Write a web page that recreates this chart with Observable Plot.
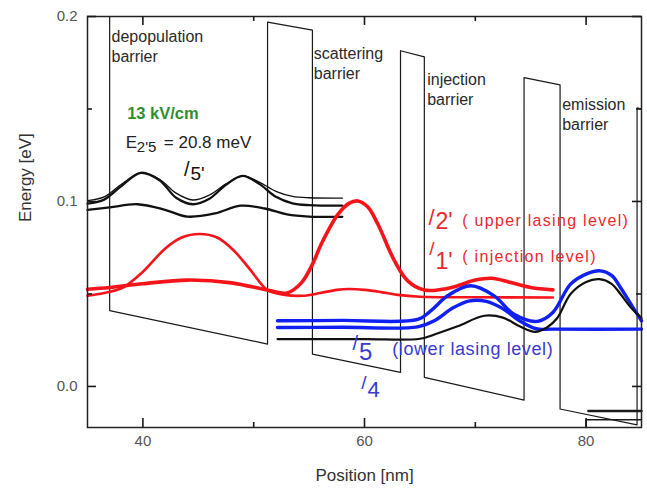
<!DOCTYPE html>
<html><head><meta charset="utf-8">
<script src="https://cdn.jsdelivr.net/npm/d3@7"></script>
<script src="https://cdn.jsdelivr.net/npm/@observablehq/plot@0.6"></script>
<style>
body{margin:0;background:#fff;}
#chart svg{font-family:"Liberation Sans",Arial,sans-serif;}
</style>
</head><body><div id="chart"></div>
<script>
// ---- axes ----
const xDomain = [35, 85];
const yDomain = [-0.0222, 0.2];
const xMajor = [40, 60, 80];
const xMinor = [50, 70];
const yMajor = [0, 0.1, 0.2];
const yMinor = [0.05, 0.15];

// ---- conduction band profile (position nm, energy eV) ----
const bandX = [37, 37, 51.25, 51.25, 55.3, 55.3, 63.25, 63.25, 65.4, 65.4, 74.4, 74.4, 77.65, 77.65, 84.6, 84.6, 85];
const bandE = [0.2, 0.041, 0.0229, 0.197, 0.1926, 0.0175, 0.0076, 0.1815, 0.1782, 0.0049, -0.0074, 0.167, 0.163, -0.0122, -0.0208, 0.1506, 0.1500];
// next-period fragments in the lower right corner
const nextAX = [85, 80, 80];
const nextAE = [-0.018, -0.018, -0.0222];
const nextBX = [80.2, 85];
const nextBE = [-0.0133, -0.0133];

// ---- wavefunctions |psi|^2 offset by energy ----
const k5aX = [35, 36.5, 38, 39.8, 41.5, 43, 44.5, 46, 47.5, 49, 50.5, 52, 53.5, 55, 58];
const k5aE = [0.1005, 0.1025, 0.109, 0.1155, 0.112, 0.1045, 0.1008, 0.1035, 0.1095, 0.1138, 0.1105, 0.1055, 0.1028, 0.102, 0.1018];
const k5bX = [35, 36.5, 38, 39.8, 41.5, 43, 44.5, 46, 47.5, 49, 50.5, 52, 53.5, 55, 58];
const k5bE = [0.0988, 0.101, 0.108, 0.1155, 0.1115, 0.102, 0.0985, 0.1015, 0.109, 0.1138, 0.1095, 0.1025, 0.099, 0.098, 0.0977];
const k5cX = [35, 37, 39.5, 42, 44, 46.5, 48.8, 51, 53, 55, 58];
const k5cE = [0.0955, 0.0968, 0.0985, 0.0955, 0.0918, 0.0935, 0.0977, 0.0962, 0.093, 0.0918, 0.0917];

const up2X = [35, 37, 40, 44, 48, 51.3, 53, 54.3, 55.3, 56.1, 57.6, 58.6, 59.4, 60.3, 61.2, 62.7, 63.9, 65.4, 67, 68.4, 70, 71.5, 73, 75, 77];
const up2E = [0.0525, 0.0535, 0.0555, 0.0575, 0.056, 0.052, 0.0505, 0.056, 0.066, 0.077, 0.093, 0.099, 0.1003, 0.097, 0.0878, 0.068, 0.0571, 0.0521, 0.0525, 0.0544, 0.0575, 0.0585, 0.0565, 0.0535, 0.0522];
const inj1X = [35, 36.5, 38.2, 40, 42, 43.5, 45.1, 46.7, 48.2, 49.7, 51.25, 52.8, 54.4, 56, 57.5, 58.6, 60, 61.5, 63, 65, 70, 77];
const inj1E = [0.049, 0.0505, 0.0535, 0.062, 0.0745, 0.0805, 0.0824, 0.0805, 0.0735, 0.063, 0.052, 0.0495, 0.049, 0.0505, 0.0522, 0.0527, 0.0522, 0.051, 0.0495, 0.0485, 0.0482, 0.0481];

const low5X = [52.15, 58, 64.8, 66, 67.5, 69.6, 71.7, 73.5, 75.6, 77, 78.6, 80.1, 81.3, 82.3, 83.1, 84.2, 85];
const low5E = [0.0355, 0.0357, 0.0362, 0.041, 0.049, 0.0544, 0.049, 0.039, 0.0352, 0.04, 0.0553, 0.061, 0.0625, 0.06, 0.0535, 0.043, 0.0355];
const lev4X = [52.15, 58, 64.8, 66.3, 68, 69.5, 71, 72.5, 74, 75.5, 77, 85];
const lev4E = [0.0319, 0.032, 0.0322, 0.0355, 0.0425, 0.0463, 0.046, 0.042, 0.0355, 0.0312, 0.031, 0.031];
const gndX = [52.15, 60, 65, 66.5, 68.4, 70.8, 72.5, 74, 75.4, 76.5, 77.4, 78.6, 80, 81.2, 82.3, 83.1, 84, 85];
const gndE = [0.0256, 0.0256, 0.0258, 0.0285, 0.0325, 0.0382, 0.0372, 0.0325, 0.0295, 0.032, 0.037, 0.05, 0.0565, 0.058, 0.0555, 0.05, 0.043, 0.037];

// ---- annotations ----
const barrierText = ["depopulation\nbarrier", "scattering\nbarrier", "injection\nbarrier", "emission\nbarrier"];
const barrierX = [37.17, 55.42, 65.66, 77.84];
const barrierY = [0.1843, 0.1753, 0.1608, 0.1475];

const fieldText = ["13 kV/cm"];
const fieldX = [38.58];
const fieldY = [0.1475];
const energyParts = ["E", "2'5", "= 20.8 meV"];
const energyX = [38.46];
const energyY = [0.1318];

const redText = ["( upper lasing level)", "( injection level)"];
const redX = [68.82, 68.82];
const redY = [0.0896, 0.0698];
const blueText = ["(lower lasing level)"];
const blueX = [62.5];
const blueY = [0.0202];

// kets: slash position + state label
const ketLabel = ["5'", "2'", "1'", "5", "4"];
const ketX = [44.12, 66.23, 66.23, 59.32, 60.09];
const ketY = [0.1172, 0.0910, 0.0743, 0.0233, 0.0021];

const pts = (xs, es) => xs.map((x, i) => ({x, y: es[i]}));
const RED = "#f5141a", BLUE = "#1020f0", REDTXT = "#e8282e", BLUETXT = "#3a3acd";
const FW = 647 - 87 - 6, FH = 491 - 16 - 64;
// tick lengths (pixels) expressed in data units of each scale
const tyMaj = 9 * (yDomain[1] - yDomain[0]) / FH, tyMin = 5 * (yDomain[1] - yDomain[0]) / FH;
const txMaj = 9 * (xDomain[1] - xDomain[0]) / FW, txMin = 5 * (xDomain[1] - xDomain[0]) / FW;

function wave(xs, es, stroke, w) {
  return Plot.line(pts(xs, es), {x: "x", y: "y", stroke, strokeWidth: w, curve: "catmull-rom"});
}
function ket(i, color, sSize, dSize, dx, dy) {
  const d = [{x: ketX[i], y: ketY[i], t: ketLabel[i]}];
  return [
    Plot.text(d, {x: "x", y: "y", text: () => "/", fill: color, fontSize: sSize, textAnchor: "end", dx: 1}),
    Plot.text(d, {x: "x", y: "y", text: "t", fill: color, fontSize: dSize, textAnchor: "start", dx, dy})
  ];
}
const tk = {stroke: "#1a1a1a", strokeWidth: 1.6};

const chart = Plot.plot({
  width: 647, height: 491,
  marginLeft: 87, marginRight: 6, marginTop: 16, marginBottom: 64,
  x: {domain: xDomain},
  y: {domain: yDomain},
  style: {fontFamily: "'Liberation Sans', Arial, sans-serif", background: "#fff"},
  marks: [
    // band profile
    Plot.line(pts(bandX, bandE), {x: "x", y: "y", stroke: "#1a1a1a", strokeWidth: 1.2}),
    Plot.line(pts(nextAX, nextAE), {x: "x", y: "y", stroke: "#1a1a1a", strokeWidth: 1.6}),
    Plot.line(pts(nextBX, nextBE), {x: "x", y: "y", stroke: "#1a1a1a", strokeWidth: 2.4}),
    // black upper states
    wave(k5aX, k5aE, "#111", 1.3),
    wave(k5bX, k5bE, "#111", 2.3),
    wave(k5cX, k5cE, "#111", 2.3),
    // red states
    wave(inj1X, inj1E, RED, 2.6),
    wave(up2X, up2E, RED, 3.6),
    // blue states
    wave(lev4X, lev4E, BLUE, 3.4),
    wave(low5X, low5E, BLUE, 3.4),
    wave(gndX, gndE, "#111", 2.2),
    // frame and inward ticks on all four sides
    Plot.frame({stroke: "#222", strokeWidth: 1.5}),
    Plot.ruleX(xMajor, {x: d => d, y1: yDomain[0], y2: yDomain[0] + tyMaj, ...tk}),
    Plot.ruleX(xMinor, {x: d => d, y1: yDomain[0], y2: yDomain[0] + tyMin, ...tk}),
    Plot.ruleX(xMajor, {x: d => d, y1: yDomain[1] - tyMaj, y2: yDomain[1], ...tk}),
    Plot.ruleX(xMinor, {x: d => d, y1: yDomain[1] - tyMin, y2: yDomain[1], ...tk}),
    Plot.ruleY(yMajor, {y: d => d, x1: xDomain[0], x2: xDomain[0] + txMaj, ...tk}),
    Plot.ruleY(yMinor, {y: d => d, x1: xDomain[0], x2: xDomain[0] + txMin, ...tk}),
    Plot.ruleY(yMajor, {y: d => d, x1: xDomain[1] - txMaj, x2: xDomain[1], ...tk}),
    Plot.ruleY(yMinor, {y: d => d, x1: xDomain[1] - txMin, x2: xDomain[1], ...tk}),
    // tick labels
    Plot.axisX(xMajor, {anchor: "bottom", tickSize: 0, tickPadding: 8, fontSize: 15, fill: "#555", stroke: null, label: null, tickFormat: d => String(d)}),
    Plot.axisY(yMajor, {anchor: "left", tickSize: 0, tickPadding: 10, fontSize: 15, fill: "#555", stroke: null, label: null, tickFormat: d3.format(".1f")}),
    // axis titles
    Plot.text(["Position [nm]"], {frameAnchor: "bottom", dy: 48, lineAnchor: "middle", fontSize: 17, fill: "#333"}),
    Plot.text(["Energy [eV]"], {frameAnchor: "left", dx: -62, rotate: -90, lineAnchor: "middle", fontSize: 17, fill: "#333"}),
    // barrier labels
    Plot.text(barrierText, {x: (d, i) => barrierX[i], y: (d, i) => barrierY[i], text: d => d, textAnchor: "start", lineAnchor: "middle", lineHeight: 1.25, fontSize: 16, fill: "#2a2a2a"}),
    // field and energy
    Plot.text(fieldText, {x: (d, i) => fieldX[i], y: (d, i) => fieldY[i], text: d => d, textAnchor: "start", fontSize: 16.5, fontWeight: "bold", fill: "#2f8f2f"}),
    Plot.text([energyParts[0]], {x: () => energyX[0], y: () => energyY[0], text: d => d, textAnchor: "start", fontSize: 17, fill: "#222"}),
    Plot.text([energyParts[1]], {x: () => energyX[0], y: () => energyY[0], text: d => d, textAnchor: "start", fontSize: 15, dx: 11, dy: 5, fill: "#222"}),
    Plot.text([energyParts[2]], {x: () => energyX[0], y: () => energyY[0], text: d => d, textAnchor: "start", fontSize: 17, dx: 38, fill: "#222"}),
    // kets
    ...ket(0, "#111", 20, 19, 2, 4),
    ...ket(1, REDTXT, 22, 23, 2, 4),
    ...ket(2, REDTXT, 19, 23, 2, 13),
    ...ket(3, BLUETXT, 20, 24, 2, 9),
    ...ket(4, BLUETXT, 19, 22, 2, 7),
    // level descriptions
    Plot.text(redText, {x: (d, i) => redX[i], y: (d, i) => redY[i], text: d => d, textAnchor: "start", fontSize: 16, fill: REDTXT}),
    Plot.text(blueText, {x: (d, i) => blueX[i], y: (d, i) => blueY[i], text: d => d, textAnchor: "start", fontSize: 18, fill: BLUETXT})
  ]
});

d3.select(chart).selectAll("text").each(function() {
  const t = this.textContent;
  if (t === redText[0] || t === redText[1]) this.setAttribute("letter-spacing", "1.3");
  if (t === blueText[0]) this.setAttribute("letter-spacing", "0.6");
});
document.getElementById("chart").appendChild(chart);
</script>
</body></html>
